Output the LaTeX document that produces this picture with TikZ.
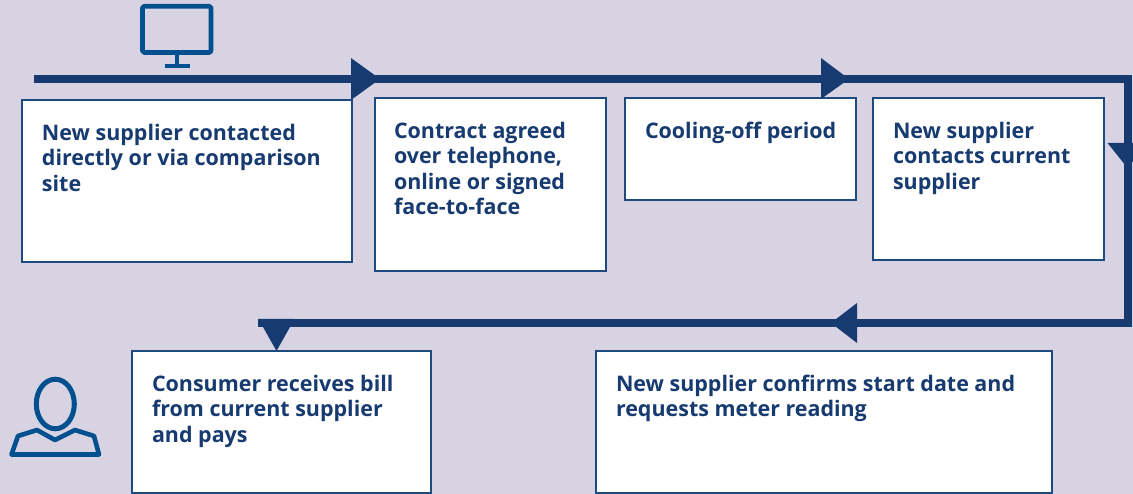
\documentclass[tikz,border=0pt]{standalone}
\usepackage{fontspec}
\setmainfont{Open Sans}
\definecolor{bgc}{HTML}{D8D3E2}
\definecolor{flowc}{HTML}{173B70}
\definecolor{edgec}{HTML}{1F4A80}
\definecolor{iconc}{HTML}{00508F}
\newcommand{\boxtext}[3]{\begin{minipage}[t][#2pt][t]{#1pt}\vspace{0pt}\setlength{\baselineskip}{25.5pt}\raggedright #3\end{minipage}}
\tikzset{
  stepbox/.style={draw=edgec,line width=1.7pt,fill=white,anchor=north west,outer sep=0pt,inner xsep=0pt,inner ysep=0pt,text=flowc,font=\fontsize{21.45}{25.5}\selectfont\bfseries},
  flow/.style={draw=flowc,line width=8pt,line join=miter},
  head/.style={fill=flowc},
  icon/.style={draw=iconc,line width=4.6pt,line join=round}
}
\begin{document}
\begin{tikzpicture}[x=1pt,y=-1pt]
\useasboundingbox (0,0) rectangle (1133,494);
\clip (0,0) rectangle (1133,494);
\fill[bgc] (0,0) rectangle (1133,494);
% monitor icon
\draw[icon,rounded corners=1.5pt] (142.5,6.3) rectangle (211,52.5);
\draw[icon,line width=4pt] (177,53) -- (177,66);
\draw[icon,line width=4pt] (164.5,66) -- (189.5,66);
% person icon
\draw[icon,line width=5pt] (55.3,404) ellipse [x radius=19, y radius=24.8];
\draw[icon,line width=4.6pt] (11.5,454.5) -- (18,436) -- (37,430) -- (55,440) -- (75,430) -- (94,436) -- (99,454.5) -- cycle;
% step boxes
\node[stepbox] (s1) at (22,100) {\hspace{20pt}\boxtext{310}{162}{\vspace{24pt}New supplier contacted directly or via comparison site}};
\node[stepbox] (s2) at (375,98) {\hspace{19pt}\boxtext{212}{173}{\vspace{24pt}Contract agreed over telephone, online or signed face-to-face}};
\node[stepbox] (s3) at (625,98) {\hspace{20pt}\boxtext{211}{102}{\vspace{24pt}Cooling-off period}};
\node[stepbox] (s4) at (873,98) {\hspace{20pt}\boxtext{211}{162}{\vspace{24pt}New supplier contacts current supplier}};
\node[stepbox] (s5) at (132,351) {\hspace{20pt}\boxtext{279}{142}{\vspace{24pt}Consumer receives bill from current supplier\\ and pays}};
\node[stepbox] (s6) at (596,351) {\hspace{20pt}\boxtext{436}{142}{\vspace{24pt}New supplier confirms start date and requests meter reading}};
% flow line
\coordinate (start) at (34,79);
\coordinate (ne) at (1127.5,79);
\coordinate (se) at (1127.5,323);
\coordinate (stop) at (258,323);
\coordinate (a1) at (380,79);
\coordinate (a2) at (849,79);
\coordinate (a3) at (1127.5,168);
\coordinate (a4) at (831,323);
\coordinate (a5) at (276.5,351);
\draw[flow] (start) -- (ne) -- (se) -- (stop);
\fill[head] (a1) -- ++(-29,-21) -- ++(0,42) -- cycle;
\fill[head] (a2) -- ++(-28,-21) -- ++(0,41) -- cycle;
\fill[head] (a3) -- ++(-20,-25) -- ++(40,0) -- cycle;
\fill[head] (a4) -- ++(26,-20) -- ++(0,40) -- cycle;
\fill[head] (a5) -- ++(-18,-32) -- ++(36,0) -- cycle;
\end{tikzpicture}
\end{document}
